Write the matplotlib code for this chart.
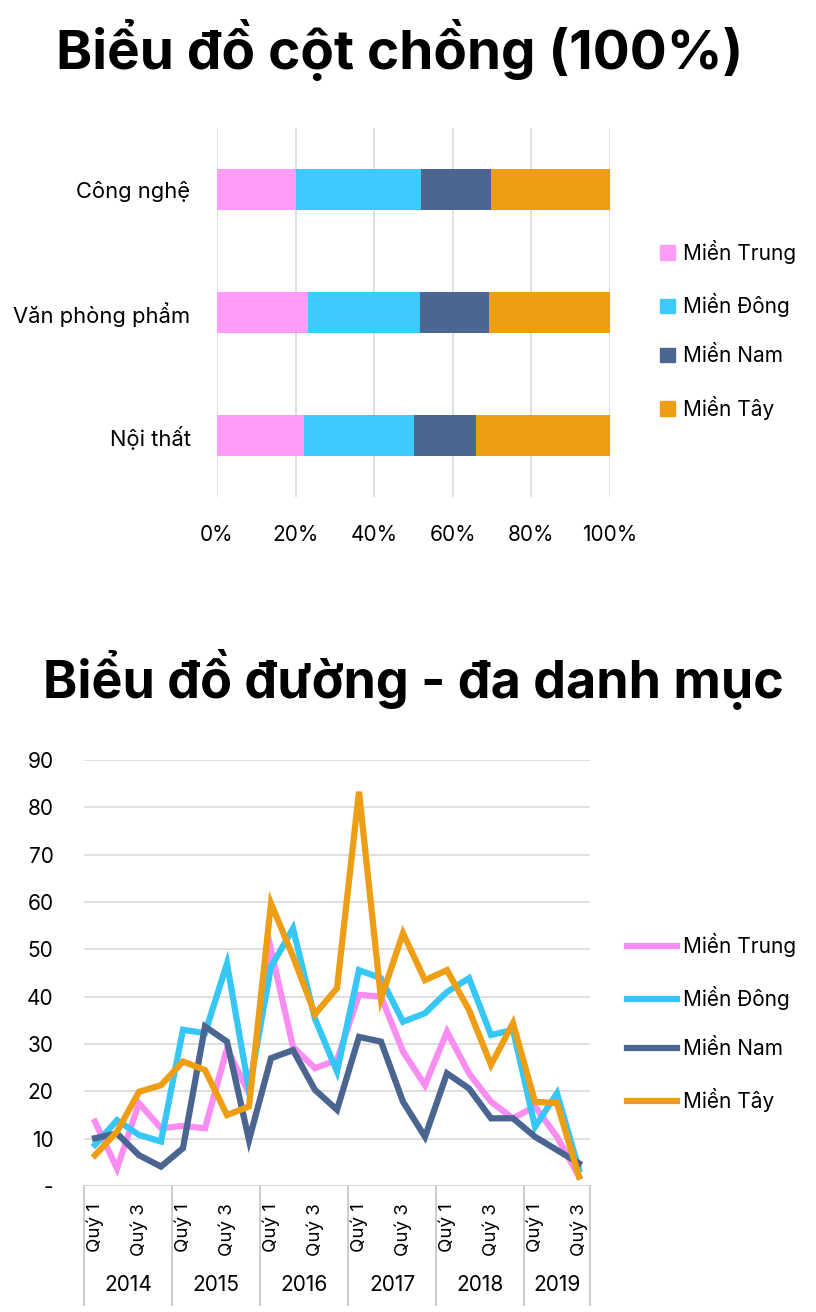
import numpy as np
import matplotlib
matplotlib.use("Agg")
import matplotlib.pyplot as plt
import matplotlib.transforms as mtransforms
from matplotlib.patches import Patch
from matplotlib.lines import Line2D

plt.rcParams['font.family'] = ['Inter', 'DejaVu Sans']

# ---- data: stacked 100% bars
categories = ['Công nghệ', 'Văn phòng phẩm', 'Nội thất']
regions = ['Miền Trung', 'Miền Đông', 'Miền Nam', 'Miền Tây']
share_trung = [20.2, 23.1, 22.1]
share_dong = [31.8, 28.6, 28.0]
share_nam = [17.7, 17.6, 15.7]
share_tay = [30.3, 30.7, 34.2]

# ---- data: quarterly lines
years = ['2014', '2015', '2016', '2017', '2018', '2019']
quarters_per_year = [4, 4, 4, 4, 4, 3]
line_trung = [13.6, 3.7, 17.5, 12.2, 12.7, 12.2, 29.0, 19.6, 49.9, 29.4, 24.9, 26.6,
              40.4, 40.0, 28.4, 21.3, 32.6, 23.8, 17.8, 14.3, 16.8, 10.4, 2.0]
line_dong = [8.7, 13.9, 10.8, 9.4, 33.0, 32.3, 47.0, 20.3, 46.3, 54.4, 35.3, 24.2,
             45.6, 43.9, 34.7, 36.5, 41.0, 43.9, 31.9, 33.0, 12.5, 19.6, 3.5]
line_nam = [10.1, 11.1, 6.5, 4.1, 8.0, 33.7, 30.5, 9.7, 27.0, 28.7, 20.3, 16.1,
            31.5, 30.5, 17.8, 10.4, 23.8, 20.6, 14.3, 14.3, 10.4, 7.6, 4.8]
line_tay = [6.5, 11.5, 19.9, 21.3, 26.3, 24.5, 15.0, 16.8, 59.7, 48.5, 36.3, 41.8,
            83.3, 39.6, 53.4, 43.5, 45.6, 37.2, 25.6, 34.4, 17.8, 17.5, 2.0]

colors_bar = ['#FF9CF7', '#3DCBFB', '#4B6690', '#EE9E14']
colors_line = ['#F98DF2', '#36C7F7', '#4A6590', '#EE9E14']
grid_c = '#d9d9d9'

fig = plt.figure(figsize=(8.16, 13.12), dpi=100)

# ================= stacked bar =================
fig.text(0.49, 1 - 50 / 1312, 'Biểu đồ cột chồng (100%)', ha='center', va='center',
         fontsize=39.5, fontweight='bold')

ax1 = fig.add_axes([217 / 816, 1 - 497 / 1312, (610 - 217) / 816, (497 - 128) / 1312])
ypos = np.arange(len(categories))
left = np.zeros(len(categories))
for vals, col, name in zip([share_trung, share_dong, share_nam, share_tay], colors_bar, regions):
    ax1.barh(ypos, vals, left=left, height=0.33, color=col, label=name, zorder=3)
    left = left + np.array(vals)
ax1.set_xlim(0, 100)
ax1.set_ylim(2.5, -0.5)
ax1.set_xticks(range(0, 101, 20))
ax1.set_xticklabels([f'{v}%' for v in range(0, 101, 20)], fontsize=15)
ax1.set_yticks(ypos)
ax1.set_yticklabels(categories, fontsize=15.8)
ax1.tick_params(length=0, pad=20, axis='x')
ax1.tick_params(length=0, pad=19, axis='y')
ax1.grid(axis='x', color=grid_c, lw=1.2, zorder=0)
for s in ax1.spines.values():
    s.set_visible(False)

bar_handles = [Patch(color=c, label=n) for c, n in zip(colors_bar, regions)]
fig.legend(handles=bar_handles, loc='upper left', bbox_to_anchor=(660 / 816, 1 - 240 / 1312),
           frameon=False, fontsize=15, handlelength=0.7, handleheight=0.7,
           handletextpad=0.4, labelspacing=1.4, borderaxespad=0, borderpad=0)

# ================= line chart =================
fig.text(0.507, 1 - 680 / 1312, 'Biểu đồ đường - đa danh mục', ha='center', va='center',
         fontsize=37.5, fontweight='bold')

ax2 = fig.add_axes([84 / 816, 1 - 1186 / 1312, (590 - 84) / 816, (1186 - 760) / 1312])
n = len(line_trung)
x = np.arange(n)
for vals, col, name in zip([line_trung, line_dong, line_nam, line_tay], colors_line, regions):
    ax2.plot(x, vals, color=col, lw=4.5, label=name, solid_joinstyle='miter', zorder=3)
ax2.set_xlim(-0.5, n - 0.5)
ax2.set_ylim(0, 90)
ax2.set_yticks(range(0, 91, 10))
ax2.set_yticklabels(['-'] + [str(v) for v in range(10, 91, 10)], fontsize=15)
ax2.tick_params(axis='y', length=0, pad=22)
ax2.grid(axis='y', color=grid_c, lw=1.2, zorder=0)
for s in ax2.spines.values():
    s.set_visible(False)
ax2.axhline(0, color='#c8c8c8', lw=1.5, zorder=1)

# quarter labels (every other one)
q_labels = []
q_pos = []
idx = 0
for nq in quarters_per_year:
    for q in range(nq):
        if q % 2 == 0:
            q_pos.append(idx)
            q_labels.append(f'Quý {q + 1}')
        idx += 1
ax2.set_xticks(q_pos)
ax2.set_xticklabels(q_labels, rotation=90, fontsize=13.5, va='top')
ax2.tick_params(axis='x', length=0, pad=12)

# year group labels and separators
trans = mtransforms.blended_transform_factory(ax2.transData, ax2.transAxes)
start = -0.5
bounds = [start]
for yr, nq in zip(years, quarters_per_year):
    mid = start + nq / 2
    ax2.text(mid, -0.232, yr, transform=trans, ha='center', va='center', fontsize=15)
    start += nq
    bounds.append(start)
for b in bounds:
    ax2.plot([b, b], [0, -0.28], transform=trans, color='#c8c8c8', lw=1.3, clip_on=False)

line_handles = [Line2D([0], [0], color=c, lw=4.5, label=nm) for c, nm in zip(colors_line, regions)]
fig.legend(handles=line_handles, loc='upper left', bbox_to_anchor=(627 / 816, 1 - 933 / 1312),
           frameon=False, fontsize=15, handlelength=2.4, handletextpad=0.3,
           labelspacing=1.4, borderaxespad=0, borderpad=0)

fig.savefig('out.png', dpi=100, facecolor='white')
